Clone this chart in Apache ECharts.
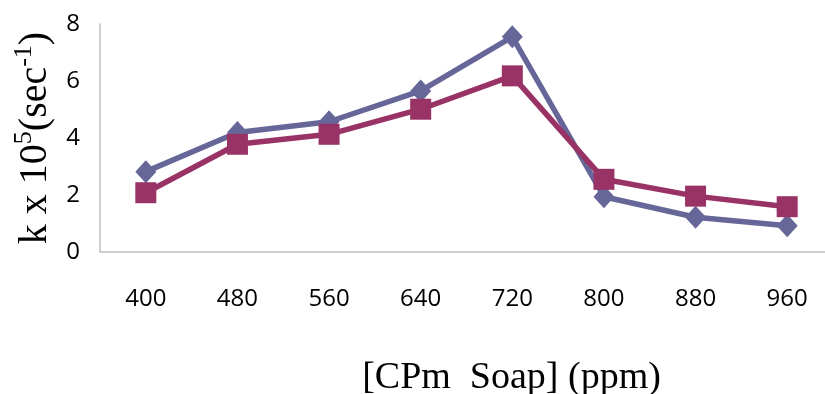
<!DOCTYPE html>
<html>
<head>
<meta charset="utf-8">
<script src="https://cdn.jsdelivr.net/npm/echarts@6/dist/echarts.min.js"></script>
<style>
html,body{margin:0;padding:0;background:#fff;}
#c{width:825px;height:394px;}
</style>
</head>
<body>
<div id="c"></div>
<script>
const categories = ['400','480','560','640','720','800','880','960'];
const seriesDiamond = [2.82, 4.19, 4.57, 5.65, 7.55, 1.94, 1.22, 0.92];
const seriesSquare = [2.08, 3.78, 4.13, 5.01, 6.18, 2.55, 1.96, 1.59];
const yTicks = [0, 2, 4, 6, 8];

const labelFont = '"Open Sans", sans-serif';
const serif = '"Liberation Serif", "DejaVu Serif", serif';

const chart = echarts.init(document.getElementById('c'), null, {renderer: 'canvas'});
chart.setOption({
  animation: false,
  backgroundColor: '#ffffff',
  grid: {left: 100, right: -8, top: 24, bottom: 142, containLabel: false, outerBoundsMode: 'none'},
  xAxis: {
    type: 'category',
    data: categories,
    boundaryGap: true,
    axisLine: {show: true, lineStyle: {color: '#bfbfbf', width: 1.5}},
    axisTick: {show: false},
    splitLine: {show: false},
    axisLabel: {margin: 35, fontFamily: labelFont, fontSize: 24, color: '#000'},
    name: '[CPm  Soap] (ppm)',
    nameLocation: 'middle',
    nameGap: 107,
    nameTextStyle: {fontFamily: serif, fontSize: 38, color: '#000', padding: [0, 0, 0, 90]}
  },
  yAxis: {
    type: 'value',
    min: yTicks[0],
    max: yTicks[yTicks.length - 1],
    interval: yTicks[1] - yTicks[0],
    axisLine: {show: true, lineStyle: {color: '#bfbfbf', width: 1.5}},
    axisTick: {show: false},
    splitLine: {show: false},
    axisLabel: {margin: 20, fontFamily: labelFont, fontSize: 24, color: '#000'},
    name: '{a|k x 10}{s|5}{a|(sec}{s|-1}{a|)}',
    nameLocation: 'middle',
    nameRotate: 90,
    nameGap: 35,
    nameTextStyle: {
      color: '#000',
      rich: {
        a: {fontFamily: serif, fontSize: 40, lineHeight: 48, color: '#000'},
        s: {fontFamily: serif, fontSize: 26, lineHeight: 24, verticalAlign: 'top', color: '#000'}
      }
    }
  },
  series: [
    {
      type: 'line',
      data: seriesDiamond,
      symbol: 'diamond',
      symbolSize: [21, 23],
      lineStyle: {color: '#666699', width: 5.5},
      itemStyle: {color: '#666699'},
      z: 2
    },
    {
      type: 'line',
      data: seriesSquare,
      symbol: 'rect',
      symbolSize: [21, 21],
      lineStyle: {color: '#993366', width: 5.5},
      itemStyle: {color: '#993366'},
      z: 3
    }
  ]
});
</script>
</body>
</html>
